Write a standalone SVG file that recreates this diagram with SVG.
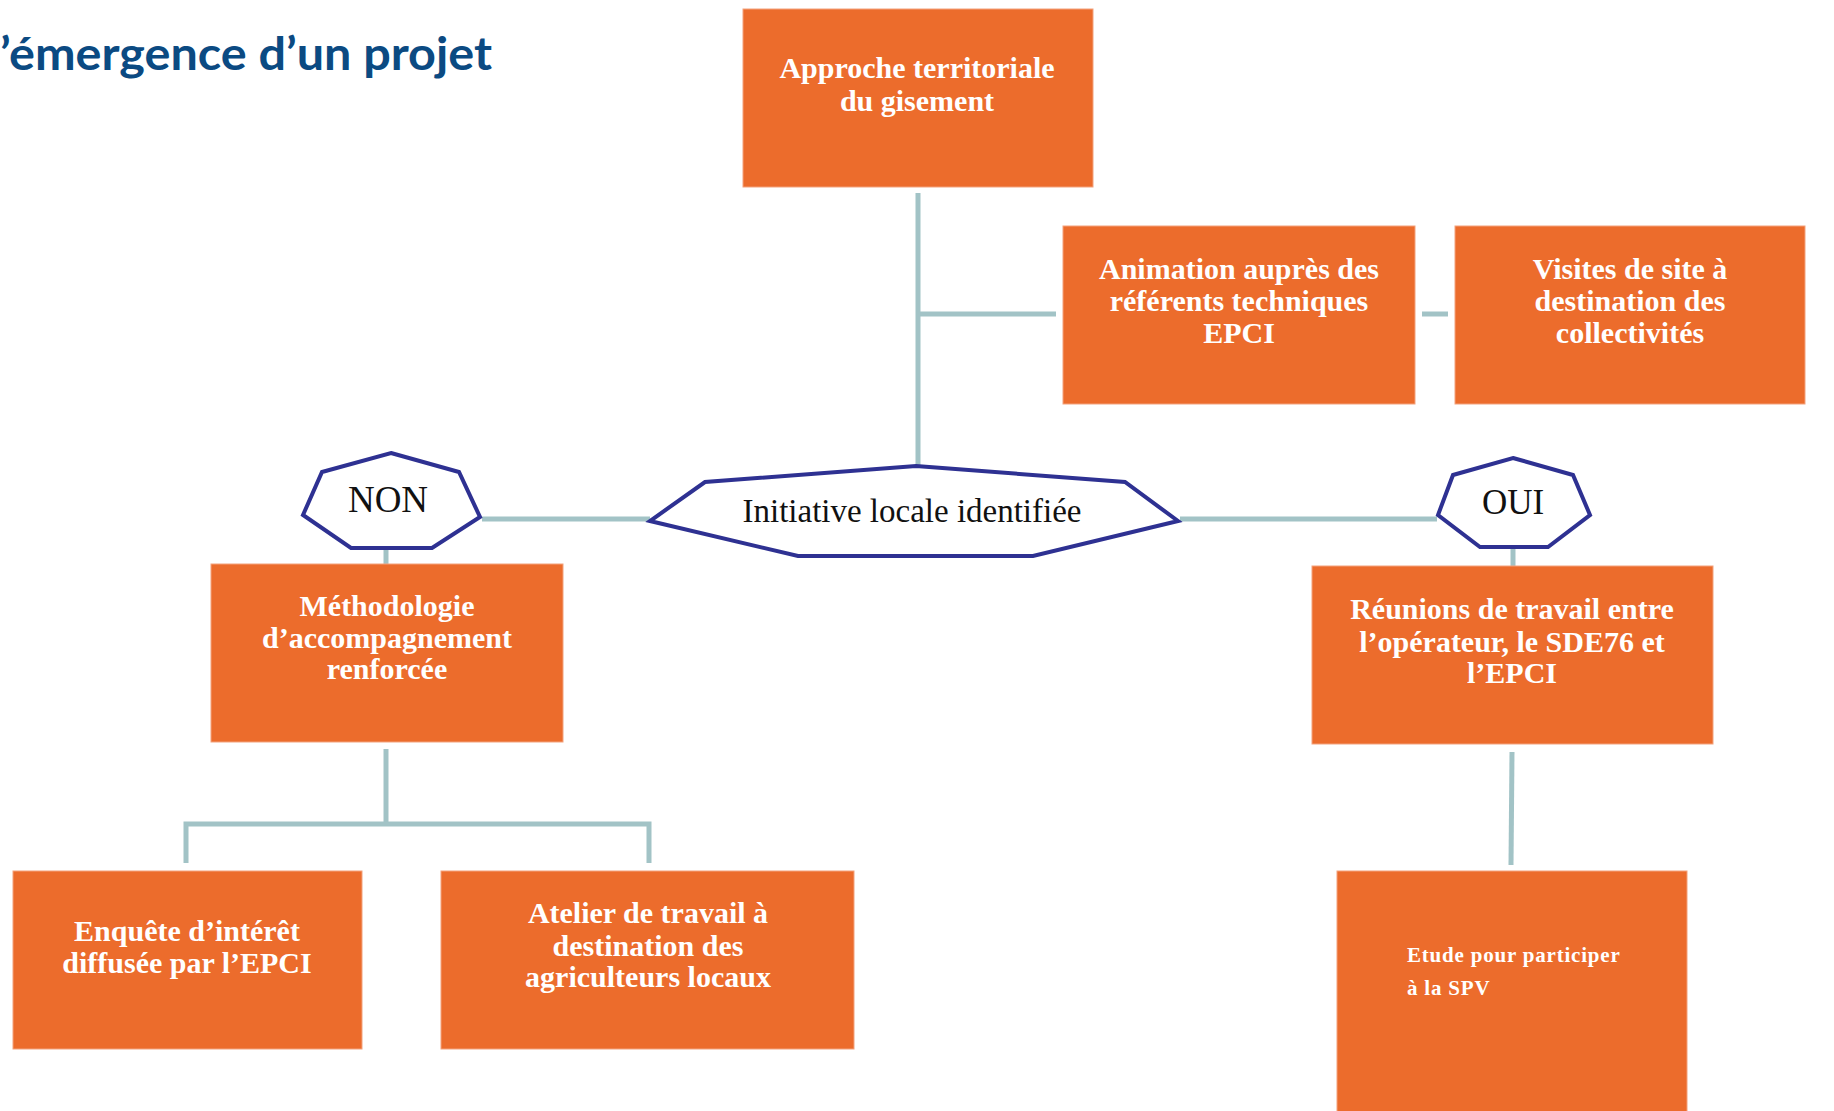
<svg xmlns="http://www.w3.org/2000/svg" width="1834" height="1111" viewBox="0 0 1834 1111">
<style>
.box{fill:#EC6C2C;stroke:#F3A27C;stroke-width:1}
.bt{font-family:"Liberation Serif","Times New Roman",serif;font-weight:bold;font-size:30px;fill:#FFFFFF;text-anchor:middle}
.hex{fill:#FFFFFF;stroke:#2E3192;stroke-width:4;stroke-linejoin:miter}
.ht{font-family:"Liberation Serif","Times New Roman",serif;fill:#111111;text-anchor:middle}
.con{stroke:#A2C3C6;stroke-width:5;fill:none}
</style>
<rect width="1834" height="1111" fill="#FFFFFF"/>
<text x="0" y="70" font-family="Lato, 'Liberation Sans', sans-serif" font-weight="bold" font-size="45" fill="#0B4A82" textLength="492" lengthAdjust="spacingAndGlyphs">’émergence d’un projet</text>
<g id="connectors">
<line class="con" x1="918" y1="193" x2="918" y2="467"/>
<line class="con" x1="918" y1="314" x2="1056" y2="314"/>
<line class="con" x1="1422" y1="314" x2="1448" y2="314"/>
<line class="con" x1="482" y1="519" x2="650" y2="519"/>
<line class="con" x1="1180" y1="519" x2="1437" y2="519"/>
<line class="con" x1="386" y1="548" x2="386" y2="564"/>
<line class="con" x1="1513" y1="548" x2="1513" y2="566"/>
<line class="con" x1="386" y1="749" x2="386" y2="824"/>
<polyline class="con" points="186,863 186,824 649,824 649,863"/>
<line class="con" x1="1512" y1="752" x2="1511" y2="865"/>
</g>
<g id="approche">
<rect class="box" x="743" y="9" width="350" height="178"/>
<text class="bt" x="917" y="78">Approche  territoriale</text>
<text class="bt" x="917" y="111">du  gisement</text>
</g>
<g id="animation">
<rect class="box" x="1063" y="226" width="352" height="178"/>
<text class="bt" x="1239" y="279">Animation  auprès des</text>
<text class="bt" x="1239" y="311">référents techniques</text>
<text class="bt" x="1239" y="343">EPCI</text>
</g>
<g id="visites">
<rect class="box" x="1455" y="226" width="350" height="178"/>
<text class="bt" x="1630" y="279">Visites de site à</text>
<text class="bt" x="1630" y="311">destination  des</text>
<text class="bt" x="1630" y="343">collectivités</text>
</g>
<g id="initiative">
<polygon class="hex" points="916,466 1125,482 1178,521 1033,556 798,556 650,521 705,482"/>
<text class="ht" x="912" y="522" font-size="33">Initiative  locale  identifiée</text>
</g>
<g id="non">
<polygon class="hex" points="391,453 459,472 480,517 432,548 351,548 303,515 322,472"/>
<text class="ht" x="388" y="512" font-size="37">NON</text>
</g>
<g id="oui">
<polygon class="hex" points="1513,458 1573,475 1590,515 1548,547 1480,547 1438,515 1453,475"/>
<text class="ht" x="1513" y="514" font-size="35">OUI</text>
</g>
<g id="methodologie">
<rect class="box" x="211" y="564" width="352" height="178"/>
<text class="bt" x="387" y="616">Méthodologie</text>
<text class="bt" x="387" y="648">d’accompagnement</text>
<text class="bt" x="387" y="679">renforcée</text>
</g>
<g id="reunions">
<rect class="box" x="1312" y="566" width="401" height="178"/>
<text class="bt" x="1512" y="619">Réunions de travail  entre</text>
<text class="bt" x="1512" y="652">l’opérateur,  le SDE76  et</text>
<text class="bt" x="1512" y="683">l’EPCI</text>
</g>
<g id="enquete">
<rect class="box" x="13" y="871" width="349" height="178"/>
<text class="bt" x="187" y="941">Enquête  d’intérêt</text>
<text class="bt" x="187" y="973">diffusée par  l’EPCI</text>
</g>
<g id="atelier">
<rect class="box" x="441" y="871" width="413" height="178"/>
<text class="bt" x="648" y="923">Atelier de travail  à</text>
<text class="bt" x="648" y="956">destination  des</text>
<text class="bt" x="648" y="987">agriculteurs  locaux</text>
</g>
<g id="etude">
<rect class="box" x="1337" y="871" width="350" height="250"/>
<text x="1407" y="962" font-family="'Liberation Serif','Times New Roman',serif" font-weight="bold" font-size="21" letter-spacing="0.8" fill="#FFFFFF">Etude pour participer</text>
<text x="1407" y="995" font-family="'Liberation Serif','Times New Roman',serif" font-weight="bold" font-size="21" letter-spacing="0.8" fill="#FFFFFF">à la SPV</text>
</g>
</svg>
